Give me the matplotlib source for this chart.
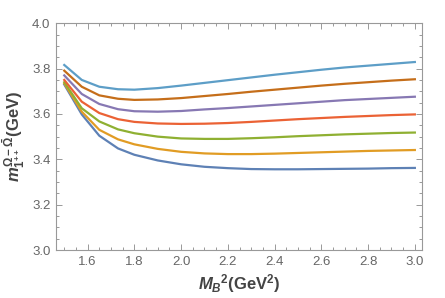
import matplotlib
matplotlib.use("Agg")
import matplotlib.pyplot as plt
from matplotlib.ticker import MultipleLocator

plt.rcParams['font.family'] = ['Liberation Sans', 'DejaVu Sans']
plt.rcParams['mathtext.fontset'] = 'custom'
plt.rcParams['mathtext.rm'] = 'Liberation Sans:bold'
plt.rcParams['mathtext.it'] = 'Liberation Sans:italic:bold'
plt.rcParams['mathtext.bf'] = 'Liberation Sans:bold'

# Borel parameter M_B^2 (GeV^2)
mb2 = [1.5, 1.575, 1.65, 1.73, 1.8, 1.9, 2.0, 2.1, 2.2, 2.3, 2.4, 2.5, 2.6, 2.7, 2.8, 2.9, 3.0]

# mass curves, bottom to top
c1 = [3.730, 3.598, 3.504, 3.448, 3.420, 3.395, 3.378, 3.367, 3.361, 3.357, 3.356, 3.356, 3.357, 3.358, 3.359, 3.361, 3.362]
c2 = [3.735, 3.610, 3.530, 3.488, 3.466, 3.446, 3.433, 3.426, 3.423, 3.423, 3.425, 3.428, 3.431, 3.434, 3.437, 3.439, 3.441]
c3 = [3.740, 3.625, 3.567, 3.532, 3.515, 3.500, 3.492, 3.490, 3.490, 3.493, 3.497, 3.502, 3.506, 3.510, 3.513, 3.516, 3.518]
c4 = [3.750, 3.654, 3.604, 3.577, 3.565, 3.558, 3.556, 3.557, 3.560, 3.565, 3.571, 3.577, 3.582, 3.587, 3.591, 3.595, 3.598]
c5 = [3.770, 3.688, 3.644, 3.621, 3.612, 3.610, 3.613, 3.620, 3.626, 3.633, 3.640, 3.647, 3.654, 3.661, 3.666, 3.671, 3.676]
c6 = [3.791, 3.720, 3.682, 3.667, 3.662, 3.664, 3.670, 3.679, 3.688, 3.698, 3.707, 3.716, 3.725, 3.733, 3.740, 3.747, 3.753]
c7 = [3.816, 3.750, 3.720, 3.709, 3.707, 3.714, 3.725, 3.737, 3.749, 3.761, 3.773, 3.784, 3.795, 3.805, 3.813, 3.821, 3.829]

curves = [c1, c2, c3, c4, c5, c6, c7]
colors = ['#5E81B5', '#E19C24', '#8FB032', '#EB6235', '#8778B3', '#C56E1A', '#5D9EC7']

fig = plt.figure(figsize=(4.45, 2.98), dpi=100)
ax = fig.add_axes([0.126, 0.161, 0.822, 0.761])

for c, col in zip(curves, colors):
    ax.plot(mb2, c, color=col, lw=1.6)

ax.set_xlim(1.465, 3.03)
ax.set_ylim(3.0, 4.0)

ax.xaxis.set_major_locator(MultipleLocator(0.2))
ax.xaxis.set_minor_locator(MultipleLocator(0.05))
ax.yaxis.set_major_locator(MultipleLocator(0.2))
ax.yaxis.set_minor_locator(MultipleLocator(0.05))
ax.xaxis.set_major_formatter(plt.FormatStrFormatter('%.1f'))
ax.yaxis.set_major_formatter(plt.FormatStrFormatter('%.1f'))

gray = '#999999'
for s in ax.spines.values():
    s.set_color(gray)
    s.set_linewidth(0.8)
ax.tick_params(which='both', direction='in', top=True, right=True, color=gray,
               labelcolor='#666666', labelsize=9.5, width=0.7)
ax.tick_params(which='major', length=4, pad=4)
ax.tick_params(which='minor', length=2)

ax.set_xlabel(r'${M_B}^2$(GeV$^2$)', fontsize=12, fontweight='bold', color='#444444', labelpad=3)
ax.set_ylabel(r'$m_{1^{++}}^{\Omega-\bar{\Omega}}$(GeV)', fontsize=12, fontweight='bold', color='#444444', labelpad=4)

fig.savefig('out.png', dpi=100)
